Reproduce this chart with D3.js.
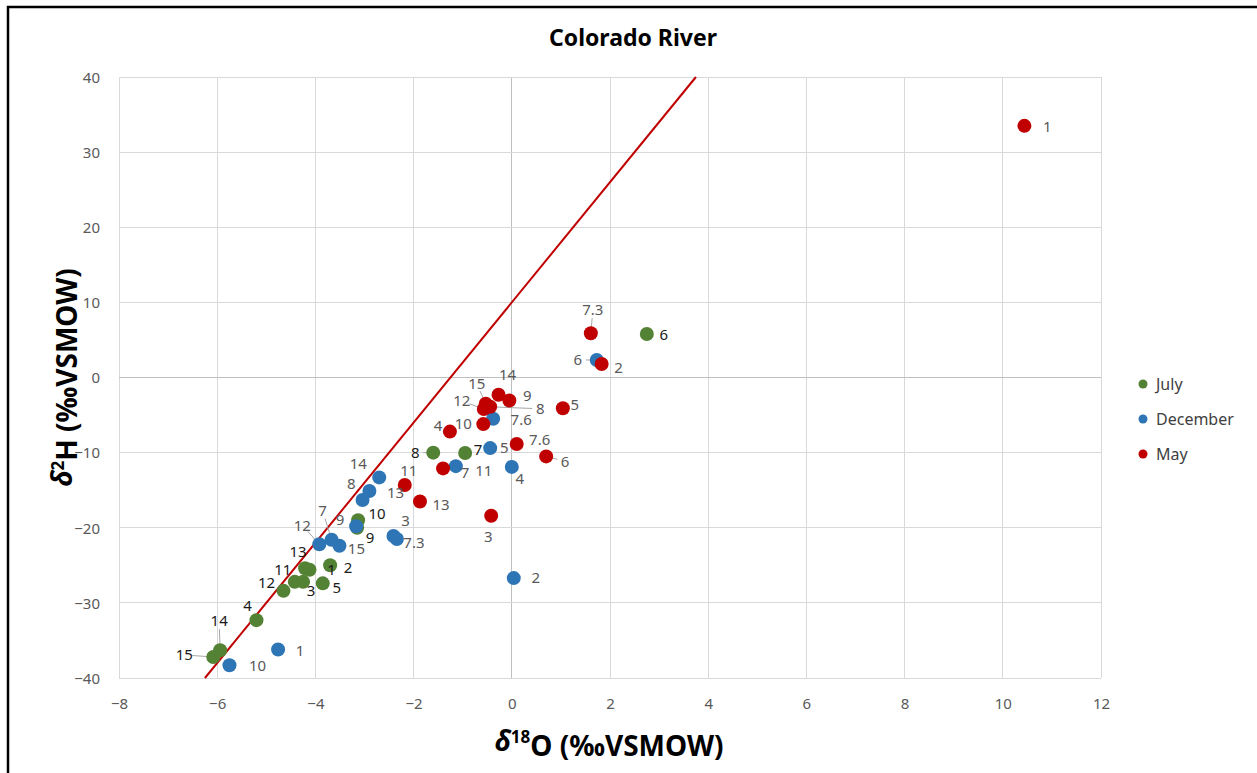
<!DOCTYPE html>
<html>
<head>
<meta charset="utf-8">
<script src="https://cdn.jsdelivr.net/npm/d3@7"></script>
<style>
  body { margin: 0; background: #fff; }
  svg { display: block; font-family: "Noto Sans", "Open Sans", "DejaVu Sans", sans-serif; }
</style>
</head>
<body>
<div id="chart"></div>
<script>
// site labels and isotope values
const julyLabels = ['15', '14', '4', '12', '11', '3', '13', '1', '5', '2', '9', '10', '8', '7', '6'];
const julyO18 = [-6.08, -5.94, -5.20, -4.65, -4.42, -4.25, -4.21, -4.12, -3.85, -3.70, -3.15, -3.13, -1.60, -0.95, 2.75];
const julyH2 = [-37.2, -36.3, -32.3, -28.4, -27.2, -27.2, -25.4, -25.6, -27.4, -25.0, -20.0, -19.0, -10.0, -10.05, 5.8];

const decLabels = ['10', '1', '12', '7', '15', '9', '13', '8', '14', '3', '7.3', '11', '5', '7.6', '4', '2', '6'];
const decO18 = [-5.75, -4.76, -3.92, -3.67, -3.51, -3.17, -3.04, -2.90, -2.70, -2.41, -2.34, -1.14, -0.44, -0.38, 0.0, 0.04, 1.73];
const decH2 = [-38.3, -36.2, -22.2, -21.6, -22.4, -19.8, -16.3, -15.1, -13.3, -21.1, -21.5, -11.8, -9.4, -5.5, -11.9, -26.7, 2.33];

const mayLabels = ['11', '13', '7', '4', '10', '12', '15', '8', '3', '14', '9', '7.6', '6', '5', '7.3', '2', '1'];
const mayO18 = [-2.18, -1.87, -1.40, -1.26, -0.58, -0.57, -0.53, -0.44, -0.42, -0.27, -0.05, 0.10, 0.70, 1.04, 1.61, 1.83, 10.44];
const mayH2 = [-14.3, -16.5, -12.1, -7.2, -6.2, -4.2, -3.5, -3.9, -18.4, -2.3, -3.06, -8.85, -10.5, -4.1, 5.9, 1.8, 33.5];

const xTicks = [-8, -6, -4, -2, 0, 2, 4, 6, 8, 10, 12];
const yTicks = [-40, -30, -20, -10, 0, 10, 20, 30, 40];

// global meteoric water line: d2H = 8 * d18O + 10
const gmwlSlope = 8;
const gmwlIntercept = 10;

// label placement (offset of label centre from the point, px), leader lines where Excel drew them
const labelOffsets = {
  July: {
    '15': [-29, -2, true], '14': [-1, -29, true], '4': [-9, -14], '12': [-17, -8], '11': [-12, -12],
    '3': [8, 9], '13': [-7, -17], '1': [22, 0], '5': [14, 4], '2': [18, 2], '9': [13, 10],
    '10': [19, -6], '8': [-18, 0, true], '7': [13, -3], '6': [17, 1]
  },
  December: {
    '6': [-19, 0, true], '7.6': [28, 1], '5': [14, 0], '4': [8, 12], '11': [28, 5], '2': [22, 0],
    '3': [12, -15], '7.3': [17, 4], '14': [-21, -14], '8': [-18, -7], '13': [33, -7], '9': [-16, -6],
    '12': [-17, -19, true], '7': [-9, -29, true], '15': [17, 3], '1': [22, 1], '10': [28, 1]
  },
  May: {
    '1': [23, 1], '7.3': [2, -23, true], '2': [17, 4], '14': [9, -20], '9': [18, -5], '15': [-9, -20, true],
    '12': [-22, -8, true], '8': [50, 2, true], '10': [-20, 0], '4': [-12, -6], '5': [12, -4],
    '7.6': [23, -4], '6': [19, 5, true], '7': [22, 4], '11': [4, -14], '13': [21, 3], '3': [-3, 21]
  }
};

const series = [
  {name: 'July', color: '#548235', labelColor: '#1a1a1a', labels: julyLabels, x: julyO18, y: julyH2},
  {name: 'December', color: '#2E75B6', labelColor: '#595959', labels: decLabels, x: decO18, y: decH2},
  {name: 'May', color: '#C00000', labelColor: '#595959', labels: mayLabels, x: mayO18, y: mayH2}
];

const width = 1257, height = 773;
const margin = {top: 77, right: 156, bottom: 95, left: 119};

const svg = d3.select('#chart').append('svg')
  .attr('width', width)
  .attr('height', height);

// chart area frame (only top and left edges fall inside the picture)
svg.append('rect')
  .attr('x', 8).attr('y', 7)
  .attr('width', width + 20).attr('height', height + 20)
  .attr('fill', '#fff')
  .attr('stroke', '#000')
  .attr('stroke-width', 2.5);

const xScale = d3.scaleLinear().domain([-8, 12]).range([margin.left, width - margin.right]);
const yScale = d3.scaleLinear().domain([-40, 40]).range([height - margin.bottom, margin.top]);

const grid = svg.append('g');
grid.selectAll('line.v')
  .data(xTicks)
  .enter().append('line')
  .attr('x1', d => xScale(d)).attr('x2', d => xScale(d))
  .attr('y1', yScale(-40)).attr('y2', yScale(40))
  .attr('stroke', d => d === 0 ? '#BFBFBF' : '#D9D9D9')
  .attr('stroke-width', 1)
  .attr('shape-rendering', 'crispEdges');
grid.selectAll('line.h')
  .data(yTicks)
  .enter().append('line')
  .attr('x1', xScale(-8)).attr('x2', xScale(12))
  .attr('y1', d => yScale(d)).attr('y2', d => yScale(d))
  .attr('stroke', d => d === 0 ? '#BFBFBF' : '#D9D9D9')
  .attr('stroke-width', 1)
  .attr('shape-rendering', 'crispEdges');

// axes: labels only, Excel style
const xAxis = svg.append('g')
  .attr('transform', `translate(0,${yScale(-40) + 17})`)
  .call(d3.axisBottom(xScale).tickValues(xTicks).tickSize(0).tickFormat(d3.format('d')));
const yAxis = svg.append('g')
  .attr('transform', `translate(${xScale(-8) - 16},0)`)
  .call(d3.axisLeft(yScale).tickValues(yTicks).tickSize(0).tickFormat(d3.format('d')));
[xAxis, yAxis].forEach(a => {
  a.select('.domain').remove();
  a.selectAll('text')
    .attr('fill', '#595959')
    .style('font-size', '15px')
    .style('font-family', '"Noto Sans", "Open Sans", sans-serif');
});
yAxis.selectAll('text').attr('dy', '0.35em');

// GMWL
svg.append('line')
  .attr('x1', xScale((-40 - gmwlIntercept) / gmwlSlope)).attr('y1', yScale(-40))
  .attr('x2', xScale((40 - gmwlIntercept) / gmwlSlope)).attr('y2', yScale(40))
  .attr('stroke', '#C00000')
  .attr('stroke-width', 2);

// leader lines, then points, then labels
series.forEach(s => {
  const pts = s.labels.map((l, i) => ({label: l, x: s.x[i], y: s.y[i]}));
  const g = svg.append('g').attr('class', 'series');
  pts.forEach(p => {
    const off = labelOffsets[s.name][p.label] || [12, 0];
    if (off[2]) {
      const px = xScale(p.x), py = yScale(p.y);
      const len = Math.hypot(off[0], off[1]);
      g.append('line')
        .attr('x1', px).attr('y1', py)
        .attr('x2', px + off[0] * (len - 8) / len).attr('y2', py + off[1] * (len - 8) / len)
        .attr('stroke', '#A6A6A6')
        .attr('stroke-width', 1);
    }
  });
  g.selectAll('circle')
    .data(pts)
    .enter().append('circle')
    .attr('cx', d => xScale(d.x))
    .attr('cy', d => yScale(d.y))
    .attr('r', 7)
    .attr('fill', s.color);
  s.pts = pts;
});

series.forEach(s => {
  svg.append('g').selectAll('text')
    .data(s.pts)
    .enter().append('text')
    .attr('x', d => xScale(d.x) + (labelOffsets[s.name][d.label] || [12, 0])[0])
    .attr('y', d => yScale(d.y) + (labelOffsets[s.name][d.label] || [12, 0])[1])
    .attr('text-anchor', 'middle')
    .attr('dy', '0.35em')
    .attr('fill', s.labelColor)
    .style('font-size', '15px')
    .text(d => d.label);
});

// title
svg.append('text')
  .attr('x', 633).attr('y', 38)
  .attr('text-anchor', 'middle')
  .attr('dy', '0.35em')
  .attr('fill', '#000')
  .style('font-size', '23px')
  .style('font-weight', 'bold')
  .text('Colorado River');

// axis titles
const xTitle = svg.append('text')
  .attr('x', 609).attr('y', 741)
  .attr('text-anchor', 'middle')
  .attr('dy', '0.35em')
  .attr('fill', '#000')
  .style('font-size', '28px')
  .style('font-weight', 'bold');
xTitle.append('tspan').style('font-style', 'italic').text('δ');
xTitle.append('tspan').attr('dy', '-0.45em').style('font-size', '17px').text('18');
xTitle.append('tspan').attr('dy', '0.45em').text('O (‰VSMOW)');

const yTitle = svg.append('text')
  .attr('transform', `translate(62,${yScale(0)}) rotate(-90)`)
  .attr('text-anchor', 'middle')
  .attr('dy', '0.35em')
  .attr('fill', '#000')
  .style('font-size', '28px')
  .style('font-weight', 'bold');
yTitle.append('tspan').style('font-style', 'italic').text('δ');
yTitle.append('tspan').attr('dy', '-0.45em').style('font-size', '17px').text('2');
yTitle.append('tspan').attr('dy', '0.45em').text('H (‰VSMOW)');

// legend
const legend = svg.append('g').attr('transform', 'translate(1143,384)');
series.forEach((s, i) => {
  const row = legend.append('g').attr('transform', `translate(0,${i * 35})`);
  row.append('circle').attr('r', 4.5).attr('fill', s.color);
  row.append('text')
    .attr('x', 13)
    .attr('dy', '0.35em')
    .attr('fill', '#404040')
    .style('font-size', '16px')
    .text(s.name);
});
</script>
</body>
</html>
